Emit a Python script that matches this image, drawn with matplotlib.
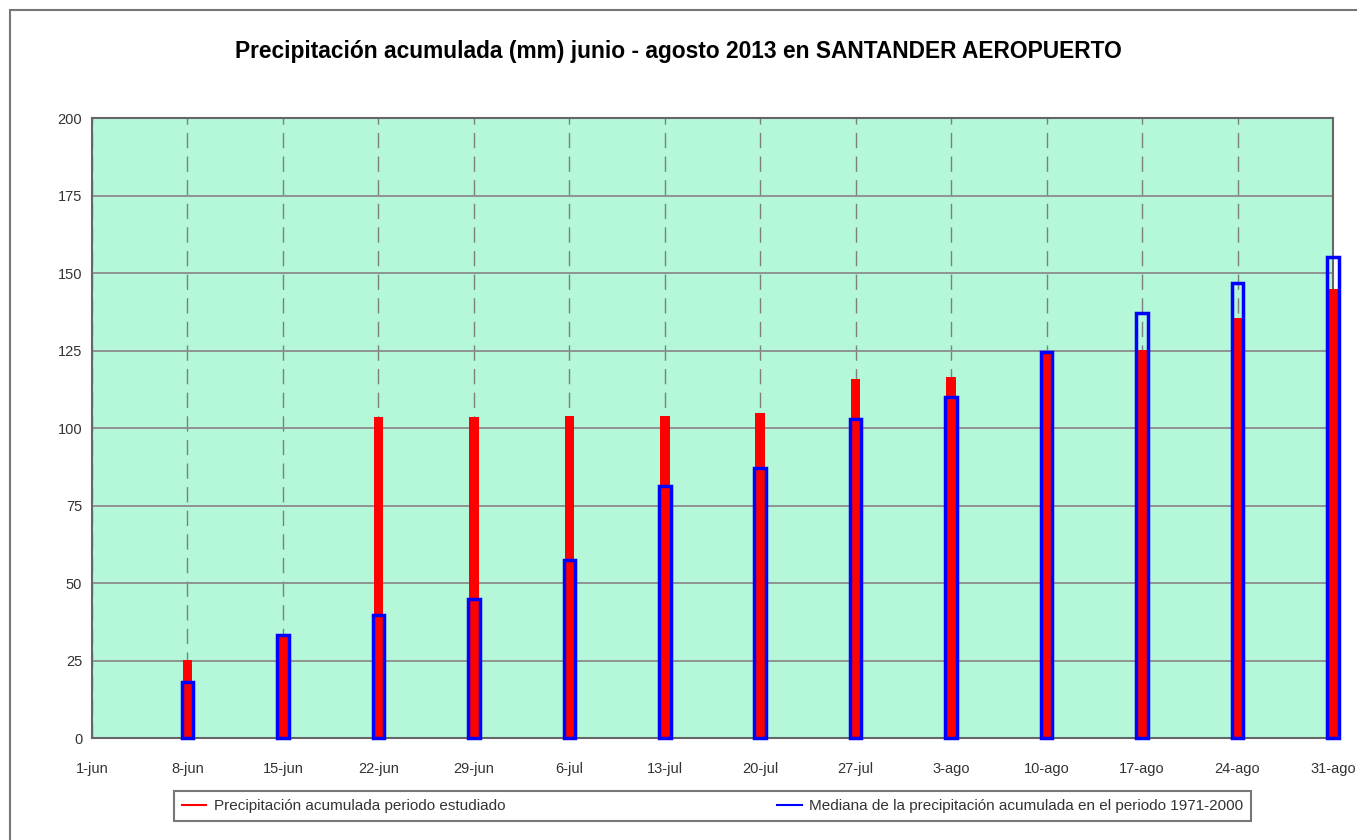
import numpy as np
import matplotlib.pyplot as plt
from matplotlib.lines import Line2D
from matplotlib.patches import Rectangle

plt.rcParams['font.family'] = ['Liberation Sans', 'DejaVu Sans']

# days since 1-jun
days = [7, 14, 21, 28, 35, 42, 49, 56, 63, 70, 77, 84, 91]
tick_days = [0, 7, 14, 21, 28, 35, 42, 49, 56, 63, 70, 77, 84, 91]
tick_labels = ['1-jun', '8-jun', '15-jun', '22-jun', '29-jun', '6-jul', '13-jul',
               '20-jul', '27-jul', '3-ago', '10-ago', '17-ago', '24-ago', '31-ago']
precip_2013 = [25.2, 32.5, 103.5, 103.5, 104.0, 104.0, 104.8, 115.8, 116.5, 124.2, 125.2, 135.5, 144.8]
median_7100 = [18.0, 33.3, 39.7, 44.8, 57.4, 81.3, 87.1, 102.9, 110.0, 124.5, 137.1, 146.8, 155.2]

fig = plt.figure(figsize=(13.57, 8.4), dpi=100)
ax = fig.add_axes([0.0678, 0.1214, 0.9145, 0.7381])
ax.set_facecolor('#b4f7d9')

ax.bar(days, precip_2013, width=0.7, color='#ff0000', zorder=3, clip_on=False)
ax.bar(days, median_7100, width=0.85, fill=False, edgecolor='#0000ff', linewidth=2.5,
       zorder=4, clip_on=False)

ax.set_xlim(0, 91)
ax.set_ylim(0, 200)
ax.set_yticks(np.arange(0, 201, 25))
ax.set_xticks(tick_days)
ax.set_xticklabels(tick_labels)
ax.tick_params(axis='both', labelsize=10.5, colors='#333333', length=0)
ax.tick_params(axis='x', pad=17)
ax.tick_params(axis='y', pad=7)

ax.grid(axis='y', color='#8c8c8c', linewidth=1.3, zorder=1)
ax.grid(axis='x', color='#7f7f7f', linewidth=1.0, linestyle=(0, (11, 6)), zorder=1)
ax.set_axisbelow(True)
for s in ax.spines.values():
    s.set_color('#666666')
    s.set_linewidth(1.5)

fig.text(0.5, 0.939, 'Precipitación acumulada (mm) junio - agosto 2013 en SANTANDER AEROPUERTO',
         ha='center', va='center', fontsize=16.4, fontweight='bold')

# outer frame
fig.patches.append(Rectangle((10 / 1357, -0.1), 1.2, 1.1 - 10 / 840, transform=fig.transFigure,
                             fill=False, edgecolor='#777777', linewidth=1.5))

handles = [Line2D([], [], color='#ff0000', linewidth=1.5),
           Line2D([], [], color='#0000ff', linewidth=1.5)]
leg = fig.legend(handles, ['Precipitación acumulada periodo estudiado',
                           'Mediana de la precipitación acumulada en el periodo 1971-2000'],
                 loc='center', bbox_to_anchor=((172 + 1253) / 2 / 1357, 1 - 806 / 840),
                 ncol=2, fontsize=11, frameon=True, fancybox=False, shadow=False,
                 edgecolor='#555555', handlelength=1.6, handletextpad=0.5,
                 columnspacing=17.8, borderpad=0.5, labelcolor='#333333')
leg.get_frame().set_linewidth(1.5)

fig.savefig('out.png', dpi=100)
